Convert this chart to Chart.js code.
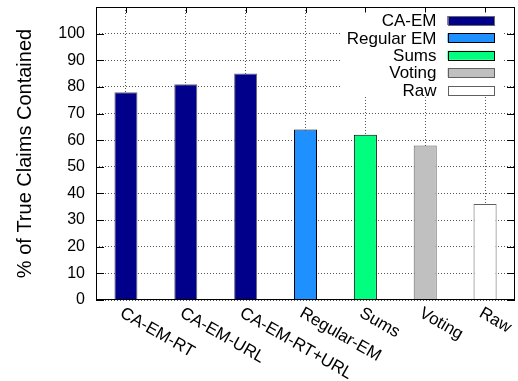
<!DOCTYPE html>
<html><head><meta charset="utf-8">
<script src="https://cdn.jsdelivr.net/npm/chart.js@4"></script>
<style>html,body{margin:0;padding:0;background:#fff}#wrap{width:518px;height:381px}</style>
</head><body><div id="wrap"><canvas id="c" width="518" height="381"></canvas></div>
<script>
const categories = ['CA-EM-RT','CA-EM-URL','CA-EM-RT+URL','Regular-EM','Sums','Voting','Raw'];
const values = [78, 81, 85, 64, 62, 58, 36];
const methodOfCategory = ['CA-EM','CA-EM','CA-EM','Regular EM','Sums','Voting','Raw'];
const legendLabels = ['CA-EM','Regular EM','Sums','Voting','Raw'];
const legendColors = ['#00008b','#1e90ff','#00ff7f','#c0c0c0','#ffffff'];
const legendBorders = ['#6a6a6a','#000000','#000000','#606060','#606060'];
const yTickValues = [0,10,20,30,40,50,60,70,80,90,100];
const yAxisMax = 110;
const yTitle = '% of True Claims Contained';

const FONT = 'Liberation Sans, Arial, sans-serif';
const barColors = methodOfCategory.map(m => legendColors[legendLabels.indexOf(m)]);
const barBorders = methodOfCategory.map(m => legendBorders[legendLabels.indexOf(m)]);

const decor = {
  id: 'decor',
  beforeDatasetsDraw(chart) {
    const {ctx, chartArea: a, scales: {x, y}} = chart;
    ctx.save();
    ctx.strokeStyle = '#000';
    ctx.lineWidth = 1;
    ctx.beginPath();
    yTickValues.forEach(v => {
      const py = Math.round(y.getPixelForValue(v)) + 0.5;
      ctx.moveTo(a.left, py); ctx.lineTo(a.left + 8, py);
      ctx.moveTo(a.right, py); ctx.lineTo(a.right - 8, py);
    });
    categories.forEach((c, i) => {
      const px = Math.round(x.getPixelForValue(i)) + 0.5;
      ctx.moveTo(px, a.top); ctx.lineTo(px, a.top + 6);
      ctx.moveTo(px, a.bottom); ctx.lineTo(px, a.bottom - 6);
    });
    ctx.stroke();
    ctx.restore();
  },
  afterDatasetsDraw(chart) {
    const {ctx, chartArea: a, scales: {x}} = chart;
    ctx.save();
    // legend
    ctx.fillStyle = '#fff';
    ctx.fillRect(a.right - 174, a.top + 5.5, 161, 84);
    ctx.font = '17px ' + FONT;
    ctx.textAlign = 'right';
    ctx.textBaseline = 'middle';
    legendLabels.forEach((lab, i) => {
      const yc = a.top + 13.5 + 17.4 * i;
      ctx.fillStyle = '#000';
      ctx.fillText(lab, a.right - 78.5, yc + 1);
      ctx.fillStyle = legendColors[i];
      ctx.fillRect(a.right - 67.5, yc - 4.5, 46.5, 9);
      ctx.strokeStyle = legendBorders[i];
      ctx.lineWidth = 1;
      ctx.strokeRect(Math.round(a.right - 67.5) + 0.5, Math.round(yc - 4.5) + 0.5, 46, 9);
    });
    // frame
    ctx.strokeStyle = '#000';
    ctx.lineWidth = 1;
    ctx.strokeRect(Math.round(a.left) + 0.5, Math.round(a.top) + 0.5,
                   Math.round(a.right - a.left) - 1, Math.round(a.bottom - a.top) - 1);
    // x labels, rotated clockwise
    ctx.fillStyle = '#000';
    ctx.font = '17px ' + FONT;
    ctx.textAlign = 'left';
    ctx.textBaseline = 'middle';
    categories.forEach((c, i) => {
      const px = x.getPixelForValue(i);
      ctx.save();
      ctx.translate(px - 4.5, a.bottom + 12);
      ctx.rotate(Math.PI / 6);
      ctx.fillText(c, 0, 0);
      ctx.restore();
    });
    ctx.restore();
  }
};

function noPad(s) { s.paddingTop = 0; s.paddingBottom = 0; s.paddingLeft = 0; s.paddingRight = 0; }

new Chart(document.getElementById('c'), {
  type: 'bar',
  data: {
    labels: categories,
    datasets: [{
      data: values,
      backgroundColor: barColors,
      borderColor: barBorders,
      borderWidth: 1,
      categoryPercentage: 1,
      barPercentage: 0.385
    }]
  },
  options: {
    responsive: false,
    animation: false,
    devicePixelRatio: 1,
    layout: {padding: {top: 7, right: 3, left: 0, bottom: 0}},
    plugins: {legend: {display: false}, tooltip: {enabled: false}},
    scales: {
      x: {
        offset: true,
        grid: {offset: false, drawTicks: false, color: '#555', lineWidth: 1},
        border: {display: false, dash: [1, 2]},
        ticks: {display: false},
        afterFit(s) { s.height = 81; noPad(s); }
      },
      y: {
        min: 0, max: yAxisMax,
        afterBuildTicks(s) { s.ticks = yTickValues.concat([yAxisMax]).map(v => ({value: v})); },
        grid: {drawTicks: false, color: '#555', lineWidth: 1},
        border: {display: false, dash: [1, 2]},
        ticks: {
          padding: 11,
          color: '#000',
          font: {family: FONT, size: 16},
          callback: v => (yTickValues.includes(v) ? String(v) : '')
        },
        title: {
          display: true, text: yTitle, color: '#000',
          font: {family: FONT, size: 20},
          padding: {top: 13, bottom: 0}
        },
        afterFit(s) { s.width = 96; noPad(s); }
      }
    }
  },
  plugins: [decor]
});
</script></body></html>
